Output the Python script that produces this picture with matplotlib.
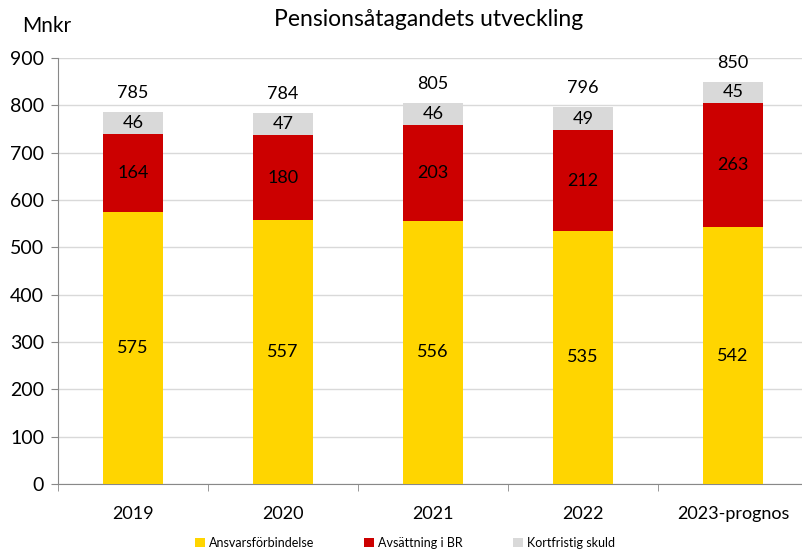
import matplotlib.pyplot as plt
import numpy as np

# data (Mnkr)
years = ["2019", "2020", "2021", "2022", "2023-prognos"]
ansvar = [575, 557, 556, 535, 542]
avsattning = [164, 180, 203, 212, 263]
kortfristig = [46, 47, 46, 49, 45]
totals = [785, 784, 805, 796, 850]

plt.rcParams['font.family'] = ['Lato', 'DejaVu Sans']

fig = plt.figure(figsize=(8.03, 5.51), dpi=100)
ax = fig.add_axes([58 / 803, 1 - 484 / 551, 750 / 803, 426 / 551])

x = np.arange(len(years))
w = 0.4
yellow = "#FFD500"
red = "#CC0000"
grey = "#D9D9D9"

ax.bar(x, ansvar, w, color=yellow, label="Ansvarsförbindelse", zorder=3)
ax.bar(x, avsattning, w, bottom=ansvar, color=red, label="Avsättning i BR", zorder=3)
bott = np.array(ansvar) + np.array(avsattning)
ax.bar(x, kortfristig, w, bottom=bott, color=grey, label="Kortfristig skuld", zorder=3)

# labels inside segments
for i in range(len(years)):
    ax.text(x[i], ansvar[i] / 2, str(ansvar[i]), ha="center", va="center", fontsize=13, zorder=4)
    ax.text(x[i], ansvar[i] + avsattning[i] / 2, str(avsattning[i]), ha="center", va="center", fontsize=13, zorder=4)
    ax.text(x[i], bott[i] + kortfristig[i] / 2, str(kortfristig[i]), ha="center", va="center", fontsize=13, zorder=4)
    ax.text(x[i], totals[i] + 40, str(totals[i]), ha="center", va="center", fontsize=13, zorder=4)

ax.set_xlim(-0.5, len(years) - 0.5)
ax.set_ylim(0, 900)
ax.set_yticks(range(0, 901, 100))
ax.set_xticks(x)
ax.set_xticklabels(years)
ax.set_xticks(np.arange(-0.5, len(years), 1), minor=True)
ax.tick_params(axis="x", which="major", length=0, labelsize=13, pad=16)
ax.tick_params(axis="x", which="minor", length=5, color="#888888")
ax.tick_params(axis="y", length=5, color="#888888", labelsize=14, pad=5)

ax.grid(axis="y", color="#D9D9D9", linewidth=1, zorder=0)
for s in ["top", "right"]:
    ax.spines[s].set_visible(False)
ax.spines["left"].set_color("#888888")
ax.spines["bottom"].set_color("#888888")

fig.text(429 / 803, 1 - 20 / 551, "Pensionsåtagandets utveckling", ha="center", va="center", fontsize=16.5)
fig.text(22 / 803, 1 - 26 / 551, "Mnkr", ha="left", va="center", fontsize=15)

fig.legend(loc="center", bbox_to_anchor=(405 / 803, 1 - 543 / 551), ncol=3, frameon=False,
           fontsize=9, handlelength=0.8, handleheight=0.8, handletextpad=0.3, columnspacing=4)

fig.savefig("out.png", dpi=100)
